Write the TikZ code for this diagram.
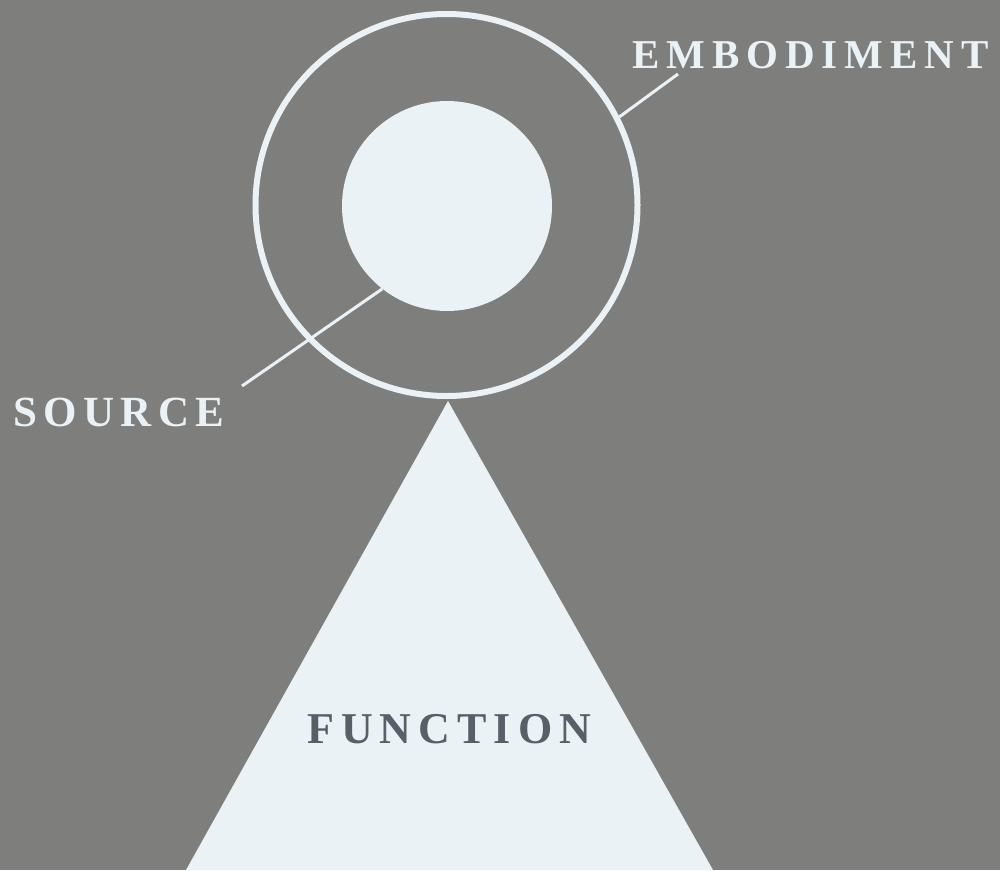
\documentclass[tikz,border=0pt]{standalone}
\usepackage{fontspec}
\setmainfont{Liberation Serif}
\definecolor{bg}{HTML}{7E7F7D}
\definecolor{chalk}{HTML}{EAF2F6}
\definecolor{ink}{HTML}{5A5E68}
\begin{document}
\begin{tikzpicture}[x=1pt,y=-1pt,
  lbl/.style={inner sep=0pt, text=chalk, font=\fontsize{41}{41}\selectfont\bfseries\addfontfeature{LetterSpace=17}},
  leader/.style={draw=chalk, line width=3pt}]
\useasboundingbox (0,0) rectangle (1000,870);
\fill[bg] (0,0) rectangle (1000,870);
% triangle
\coordinate (apex) at (448,401);
\coordinate (bl) at (186,870);
\coordinate (br) at (713,870);
\fill[chalk] (apex) -- (bl) -- (br) -- cycle;
% ring and source
\node[circle, draw=chalk, line width=6pt, minimum size=382pt, inner sep=0pt] (ring) at (446.5,205) {};
\node[circle, fill=chalk, minimum size=210pt, inner sep=0pt] (src) at (447,206) {};
% labels
\node[lbl, anchor=base west] (emb) at (632,68) {EMBODIMENT};
\node[lbl, anchor=base west, font=\fontsize{43}{43}\selectfont\bfseries\addfontfeature{LetterSpace=15}] (source) at (13,426) {SOURCE};
\node[lbl, anchor=base west, text=ink, font=\fontsize{44}{44}\selectfont\bfseries\addfontfeature{LetterSpace=16}] (func) at (307,743) {FUNCTION};
% leaders
\coordinate (embend) at (678,74);
\coordinate (srcend) at (242,386);
\draw[leader] (ring.27.6) -- (embend);
\draw[leader] (src.232) -- (srcend);
\end{tikzpicture}
\end{document}
